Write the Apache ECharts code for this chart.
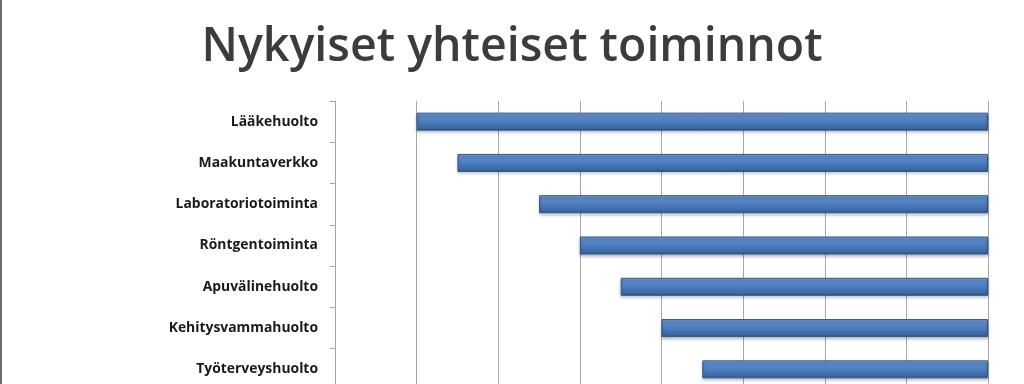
<!DOCTYPE html>
<html>
<head>
<meta charset="utf-8">
<style>
html,body{margin:0;padding:0;background:#fff;overflow:hidden;width:1024px;height:384px;}
#chart{width:1024px;height:420px;}
</style>
<script src="https://cdn.jsdelivr.net/npm/echarts@6/dist/echarts.min.js"></script>
</head>
<body>
<div id="chart"></div>
<script>
const titleText = 'Nykyiset yhteiset toiminnot';
const categories = ['Lääkehuolto','Maakuntaverkko','Laboratoriotoiminta','Röntgentoiminta','Apuvälinehuolto','Kehitysvammahuolto','Työterveyshuolto'];
const startValues = [1, 1.5, 2.5, 3, 3.5, 4, 4.5];
const lengthValues = [7, 6.5, 5.5, 5, 4.5, 4, 3.5];

const chart = echarts.init(document.getElementById('chart'), null, {renderer:'canvas'});
chart.setOption({
  animation:false,
  backgroundColor:'#ffffff',
  title:{
    text:titleText,
    left:'center',
    top:19,
    textStyle:{fontFamily:'Open Sans',fontWeight:600,fontSize:46.5,color:'#3c3c3c'}
  },
  graphic:[{type:'rect',left:0,top:0,shape:{width:2,height:420},style:{fill:'#6b6b6b'}}],
  grid:{left:335,right:36,top:101,height:289,containLabel:false},
  xAxis:{
    type:'value',min:0,max:8,interval:1,
    axisLine:{show:false},axisTick:{show:false},axisLabel:{show:false},
    splitLine:{show:true,lineStyle:{color:'#a6a6a6',width:1}}
  },
  yAxis:{
    type:'category',data:categories,inverse:true,
    axisLine:{show:true,lineStyle:{color:'#a6a6a6',width:1}},
    axisTick:{show:true,length:5,lineStyle:{color:'#a6a6a6'}},
    axisLabel:{margin:17,fontFamily:'Open Sans',fontWeight:'bold',fontSize:13.9,color:'#1a1a1a'}
  },
  series:[
    {type:'bar',stack:'g',data:startValues,itemStyle:{color:'transparent'},barWidth:18,silent:true},
    {type:'bar',stack:'g',data:lengthValues,barWidth:18,
     itemStyle:{
       color:new echarts.graphic.LinearGradient(0,0,0,1,[
         {offset:0,color:'#7ea7da'},
         {offset:0.15,color:'#5b8ccb'},
         {offset:0.55,color:'#4a7bbb'},
         {offset:0.85,color:'#3c69a7'},
         {offset:1,color:'#2b4f80'}
       ]),
       borderColor:'#31578a',borderWidth:1,
       shadowColor:'rgba(0,0,0,0.25)',shadowBlur:3,shadowOffsetY:2
     }}
  ]
});
</script>
</body>
</html>
